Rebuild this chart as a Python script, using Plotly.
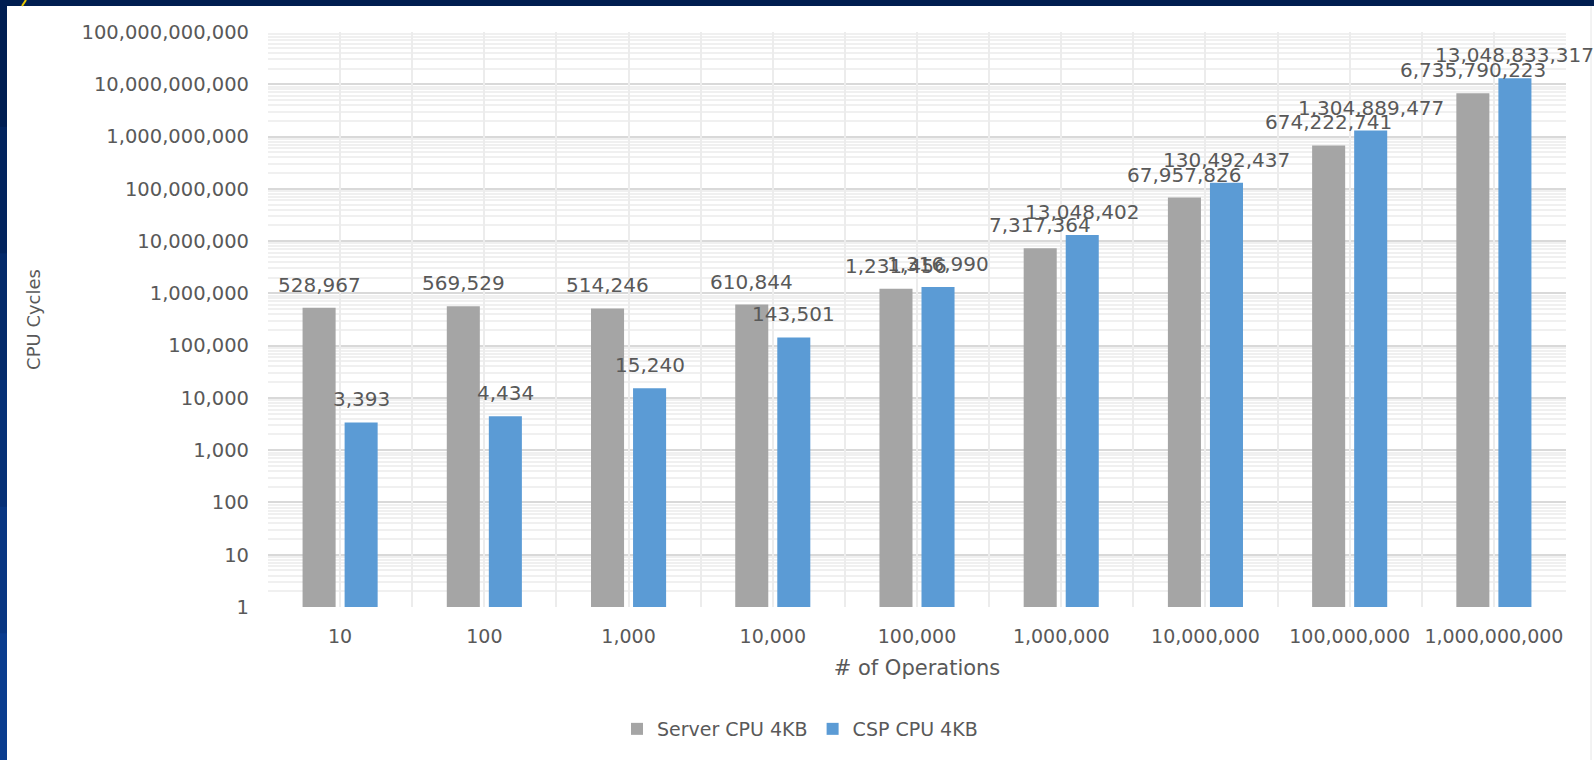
import math
import plotly.graph_objects as go

# ---------------- data ----------------
categories = ["10", "100", "1,000", "10,000", "100,000", "1,000,000",
              "10,000,000", "100,000,000", "1,000,000,000"]
server_cpu = [528967, 569529, 514246, 610844, 1231456, 7317364,
              67957826, 674222741, 6735790223]
csp_cpu = [3393, 4434, 15240, 143501, 1316990, 13048402,
           130492437, 1304889477, 13048833317]
y_tick_values = [10 ** k for k in range(12)]
series_names = ["Server CPU 4KB", "CSP CPU 4KB"]
series_colors = ["#A5A5A5", "#5B9BD5"]

# ---------------- layout geometry ----------------
W, H = 1594, 760
ML, MR, MT, MB = 268, 28, 32, 153
PW, PH = W - ML - MR, H - MT - MB
BARGAP, GROUPGAP = 0.417, 0.214


def px_x(p):
    return (p - ML) / PW


def px_y(p):
    return (H - MB - p) / PH


FONT = "DejaVu Sans"
TXT = "#595959"

fig = go.Figure()
for name, vals, col in zip(series_names, [server_cpu, csp_cpu], series_colors):
    fig.add_trace(go.Bar(
        name=name, x=categories, y=vals,
        marker=dict(color=col, line=dict(width=0)),
        hovertemplate="%{x}: %{y:,}<extra>" + name + "</extra>",
    ))
# empty helper trace so the overlay axis (vertical gridlines) gets drawn
fig.add_trace(go.Scatter(x=[], y=[], xaxis="x2", yaxis="y",
                         showlegend=False, hoverinfo="skip"))

# data labels above each bar (positioned through the axes from the data;
# x given as the category index of the category axis)
cat_px = PW / len(categories)
slot_px = cat_px * (1 - BARGAP) / 2
annotations = []
for k, vals in enumerate([server_cpu, csp_cpu]):
    shift = (k - 0.5) * slot_px
    for idx, v in enumerate(vals):
        annotations.append(dict(
            x=idx, y=math.log10(v), xref="x", yref="y",
            text=f"{v:,}", showarrow=False,
            xanchor="center", yanchor="middle",
            xshift=shift, yshift=23,
            font=dict(family=FONT, size=20, color=TXT)))

shapes = []
# white chart area
shapes.append(dict(type="rect", xref="paper", yref="paper", layer="below",
                   x0=px_x(7), x1=px_x(W + 5), y0=px_y(H + 5), y1=px_y(6),
                   fillcolor="white", line=dict(width=0)))
# left dark-blue band (gradient approximation)
left_cols = ["#001E52", "#02245E", "#042A6A", "#063076", "#083682", "#0A3C8E"]
n = len(left_cols)
for i, c in enumerate(left_cols):
    shapes.append(dict(type="rect", xref="paper", yref="paper", layer="below",
                       x0=px_x(-2), x1=px_x(7),
                       y0=px_y(H * (i + 1) / n + 1), y1=px_y(H * i / n),
                       fillcolor=c, line=dict(width=0)))
# thin right border line
shapes.append(dict(type="line", xref="paper", yref="paper", layer="below",
                   x0=px_x(1591), x1=px_x(1591), y0=px_y(H), y1=px_y(6),
                   line=dict(color="#E6E6E6", width=1)))
# small yellow stroke top-left
shapes.append(dict(type="line", xref="paper", yref="paper", layer="above",
                   x0=px_x(22), x1=px_x(26), y0=px_y(6), y1=px_y(0),
                   line=dict(color="#E8C800", width=2)))

fig.update_layout(
    width=W, height=H, autosize=False,
    margin=dict(l=ML, r=MR, t=MT, b=MB, pad=0),
    paper_bgcolor="#001E50", plot_bgcolor="rgba(0,0,0,0)",
    barmode="group", bargap=BARGAP, bargroupgap=GROUPGAP,
    font=dict(family=FONT, color=TXT),
    shapes=shapes, annotations=annotations,
    showlegend=True,
    legend=dict(orientation="h", x=px_x(800), xanchor="center",
                y=px_y(729), yanchor="middle",
                font=dict(family=FONT, size=19, color=TXT),
                bgcolor="rgba(0,0,0,0)", traceorder="normal"),
    xaxis=dict(type="category", showgrid=False, zeroline=False,
               showline=False, ticks="", tickangle=0,
               range=[-0.5, len(categories) - 0.5], autorange=False,
               categoryorder="array", categoryarray=categories,
               tickfont=dict(family=FONT, size=19, color=TXT),
               ticklabelstandoff=16,
               title=dict(text="# of Operations", standoff=14,
                          font=dict(family=FONT, size=21, color=TXT))),
    xaxis2=dict(type="linear", overlaying="x", anchor="y",
                range=[-0.5, len(categories) - 0.5], autorange=False,
                tickmode="linear", tick0=-0.5, dtick=0.5, showgrid=True,
                gridcolor="#ECECEC", gridwidth=2,
                showticklabels=False, ticks="", zeroline=False,
                showline=False, fixedrange=True),
    yaxis=dict(type="log", range=[0, 11], autorange=False, tickmode="array",
               tickvals=y_tick_values, tickformat=",",
               showgrid=True, gridcolor="#D9D9D9", gridwidth=2,
               minor=dict(dtick="D1", showgrid=True,
                          gridcolor="#F0F0F0", gridwidth=1.5, ticks=""),
               zeroline=False, showline=False, ticks="",
               tickfont=dict(family=FONT, size=19.5, color=TXT),
               ticklabelstandoff=18,
               title=dict(text="CPU Cycles", standoff=36,
                          font=dict(family=FONT, size=18, color=TXT))),
)

fig.write_html(
    "out.html",
    config={"displayModeBar": False},
    post_script="document.body.style.margin='0';"
                "document.body.style.background='#001E50';",
)
